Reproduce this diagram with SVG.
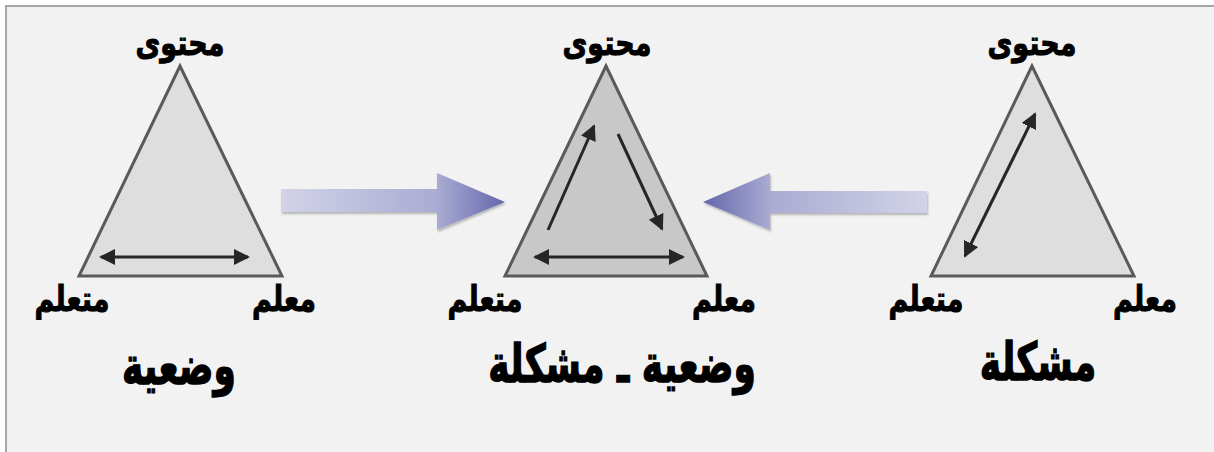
<svg xmlns="http://www.w3.org/2000/svg" width="1214" height="452" viewBox="0 0 1214 452">
<style>
.tri{stroke:#5a5a5a;stroke-width:3;stroke-linejoin:miter}
.lbl{font-family:"DejaVu Sans",sans-serif;font-weight:bold;font-size:27px;fill:#000;stroke:#000;stroke-width:0.8;text-anchor:middle}
.ttl{font-family:"DejaVu Sans",sans-serif;font-weight:bold;font-size:36px;fill:#000;stroke:#000;stroke-width:1;text-anchor:middle}
.ar{stroke:#262626;stroke-width:3;fill:none}
</style>
<defs>
<marker id="ah" viewBox="0 0 16 16" refX="14" refY="8" markerWidth="16" markerHeight="16" markerUnits="userSpaceOnUse" orient="auto-start-reverse">
<path d="M0,0 L16,8 L0,16 Z" fill="#262626"/>
</marker>
<linearGradient id="gR" x1="0" y1="0" x2="1" y2="0">
<stop offset="0" stop-color="#d2d3e8"/>
<stop offset="0.7" stop-color="#a9abd2"/>
<stop offset="1" stop-color="#6466ab"/>
</linearGradient>
<linearGradient id="gL" x1="1" y1="0" x2="0" y2="0">
<stop offset="0" stop-color="#d2d3e8"/>
<stop offset="0.7" stop-color="#a9abd2"/>
<stop offset="1" stop-color="#6466ab"/>
</linearGradient>
<filter id="sh" x="-10%" y="-20%" width="120%" height="150%">
<feDropShadow dx="1" dy="2" stdDeviation="1" flood-color="#000" flood-opacity="0.25"/>
</filter>
</defs>
<rect x="0" y="0" width="1214" height="452" fill="#ffffff"/>
<rect x="6" y="6" width="1212" height="450" fill="#f2f2f2" stroke="#a6a6a6" stroke-width="2"/>

<g id="node-wadiya">
<polygon class="tri" points="180,66 79,276 282,276" fill="#dedede"/>
<text class="lbl" transform="translate(180,55) scale(1,1.3)">محتوى</text>
<text class="lbl" transform="translate(72,311) scale(1,1.3)">متعلم</text>
<text class="lbl" transform="translate(284,311) scale(1,1.3)">معلم</text>
<text class="ttl" transform="translate(179,384) scale(1,1.45)">وضعية</text>
</g>

<g id="node-wadiya-mushkila">
<polygon class="tri" points="606,66 505,276 707,276" fill="#c8c8c8"/>
<text class="lbl" transform="translate(607,55) scale(1,1.3)">محتوى</text>
<text class="lbl" transform="translate(485,311) scale(1,1.3)">متعلم</text>
<text class="lbl" transform="translate(724,311) scale(1,1.3)">معلم</text>
<text class="ttl" transform="translate(622,382) scale(1,1.45)">وضعية ـ مشكلة</text>
</g>

<g id="node-mushkila">
<polygon class="tri" points="1032,66 931,276 1134,276" fill="#dedede"/>
<text class="lbl" transform="translate(1032,55) scale(1,1.3)">محتوى</text>
<text class="lbl" transform="translate(926,311) scale(1,1.3)">متعلم</text>
<text class="lbl" transform="translate(1145,311) scale(1,1.3)">معلم</text>
<text class="ttl" transform="translate(1038,380) scale(1,1.45)">مشكلة</text>
</g>

<g id="connectors">
<line class="ar" x1="101" y1="257" x2="248" y2="257" marker-start="url(#ah)" marker-end="url(#ah)"/>
<line class="ar" x1="548" y1="230" x2="594" y2="126" marker-end="url(#ah)"/>
<line class="ar" x1="618" y1="134" x2="662" y2="229" marker-end="url(#ah)"/>
<line class="ar" x1="535" y1="257" x2="683" y2="257" marker-start="url(#ah)" marker-end="url(#ah)"/>
<line class="ar" x1="965" y1="256" x2="1035" y2="114" marker-start="url(#ah)" marker-end="url(#ah)"/>
<path d="M281,189 L437,189 L437,173 L505,202 L437,230 L437,212 L281,212 Z" fill="url(#gR)" filter="url(#sh)"/>
<path d="M927,191 L770,191 L770,173 L703,202 L770,230 L770,213 L927,213 Z" fill="url(#gL)" filter="url(#sh)"/>
</g>
</svg>
